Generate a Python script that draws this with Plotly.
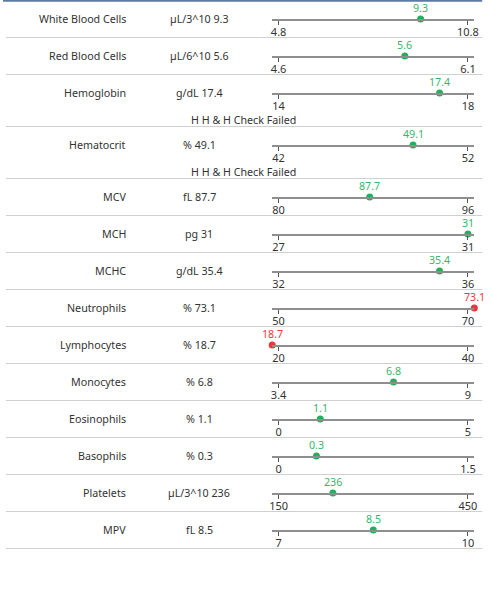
import plotly.graph_objects as go

names = ["White Blood Cells", "Red Blood Cells", "Hemoglobin", "Hematocrit", "MCV", "MCH", "MCHC",
         "Neutrophils", "Lymphocytes", "Monocytes", "Eosinophils", "Basophils", "Platelets", "MPV"]
units = ["µL/3^10", "µL/6^10", "g/dL", "%", "fL", "pg", "g/dL", "%", "%", "%", "%", "%", "µL/3^10", "fL"]
values = [9.3, 5.6, 17.4, 49.1, 87.7, 31, 35.4, 73.1, 18.7, 6.8, 1.1, 0.3, 236, 8.5]
low = [4.8, 4.6, 14, 42, 80, 27, 32, 50, 20, 3.4, 0, 0, 150, 7]
high = [10.8, 6.1, 18, 52, 96, 31, 36, 70, 40, 9, 5, 1.5, 450, 10]
low_labels = ["4.8", "4.6", "14", "42", "80", "27", "32", "50", "20", "3.4", "0", "0", "150", "7"]
high_labels = ["10.8", "6.1", "18", "52", "96", "31", "36", "70", "40", "9", "5", "1.5", "450", "10"]
notes = ["", "", "H H & H Check Failed", "H H & H Check Failed", "", "", "", "", "", "", "", "", "", ""]

W, H = 502, 600
GREEN = "#22b05c"
GREEN_T = "#3bb56d"
RED = "#e8383d"
FONT = "Noto Sans"
FS = 10.7

def px(x):
    return x / W

def py(y):
    return 1 - y / H

fig = go.Figure()
annotations = []
shapes = []

# top border line
shapes.append(dict(type="line", xref="paper", yref="paper", x0=0, x1=px(486), y0=py(0.8), y1=py(0.8),
                   line=dict(color="#5a7aa8", width=1.8)))

top = 0.5
ax_x0, ax_x1 = 273, 478
tick_pad_px = 6.5
layout_axes = {}
for i, name in enumerate(names):
    h = 52 if notes[i] else 37
    line_y = top + 18.5
    lo, hi = low[i], high[i]
    span = hi - lo
    pad = span * tick_pad_px / (ax_x1 - ax_x0 - 2 * tick_pad_px)
    rlo, rhi = lo - pad, hi + pad
    v = values[i]
    in_range = lo <= v <= hi
    col = GREEN if in_range else RED
    tcol = GREEN_T if in_range else RED
    vx = min(max(v, rlo), rhi)
    k = "" if i == 0 else str(i + 1)
    fig.add_trace(go.Scatter(x=[vx], y=[0], mode="markers", xaxis="x" + k, yaxis="y" + k,
                             marker=dict(color=col, size=7), cliponaxis=False,
                             hoverinfo="skip", showlegend=False))
    ydom0 = py(line_y)
    layout_axes["xaxis" + k] = dict(
        domain=[px(ax_x0), px(ax_x1)], anchor="y" + k, range=[rlo, rhi],
        showline=True, linecolor="#8e8e8e", linewidth=1.6, showgrid=False, zeroline=False,
        ticks="outside", ticklen=4, tickwidth=1, tickcolor="#555", ticklabelstandoff=-2,
        tickvals=[lo, hi], ticktext=[low_labels[i], high_labels[i]],
        tickfont=dict(family=FONT, size=11, color="#333"), fixedrange=True)
    layout_axes["yaxis" + k] = dict(
        domain=[ydom0, ydom0 + 0.01], range=[0, 1], visible=False, fixedrange=True)
    annotations.append(dict(xref="x" + k, yref="y" + k, x=vx, y=0, yshift=11, text=f"{v:g}",
                            showarrow=False, font=dict(family=FONT, size=FS, color=tcol),
                            xanchor="center", yanchor="middle"))
    annotations.append(dict(xref="paper", yref="paper", x=px(127), y=py(line_y), text=name,
                            showarrow=False, font=dict(family=FONT, size=FS, color="#333"),
                            xanchor="right", yanchor="middle"))
    annotations.append(dict(xref="paper", yref="paper", x=px(199), y=py(line_y), text=f"{units[i]} {v:g}",
                            showarrow=False, font=dict(family=FONT, size=FS, color="#333"),
                            xanchor="center", yanchor="middle"))
    if notes[i]:
        annotations.append(dict(xref="paper", yref="paper", x=px(244), y=py(top + 45.5), text=notes[i],
                                showarrow=False, font=dict(family=FONT, size=FS, color="#333"),
                                xanchor="center", yanchor="middle"))
    bottom = top + h
    shapes.append(dict(type="line", xref="paper", yref="paper", x0=px(3), x1=px(486),
                       y0=py(bottom), y1=py(bottom), line=dict(color="#d0d0d0", width=1.2)))
    top = bottom

fig.update_layout(width=W, height=H, margin=dict(l=0, r=0, t=0, b=0),
                  paper_bgcolor="white", plot_bgcolor="white",
                  annotations=annotations, shapes=shapes, **layout_axes)
fig.write_html("out.html", config={"displayModeBar": False},
               post_script="document.body.style.margin='0';document.body.style.overflow='hidden';")
